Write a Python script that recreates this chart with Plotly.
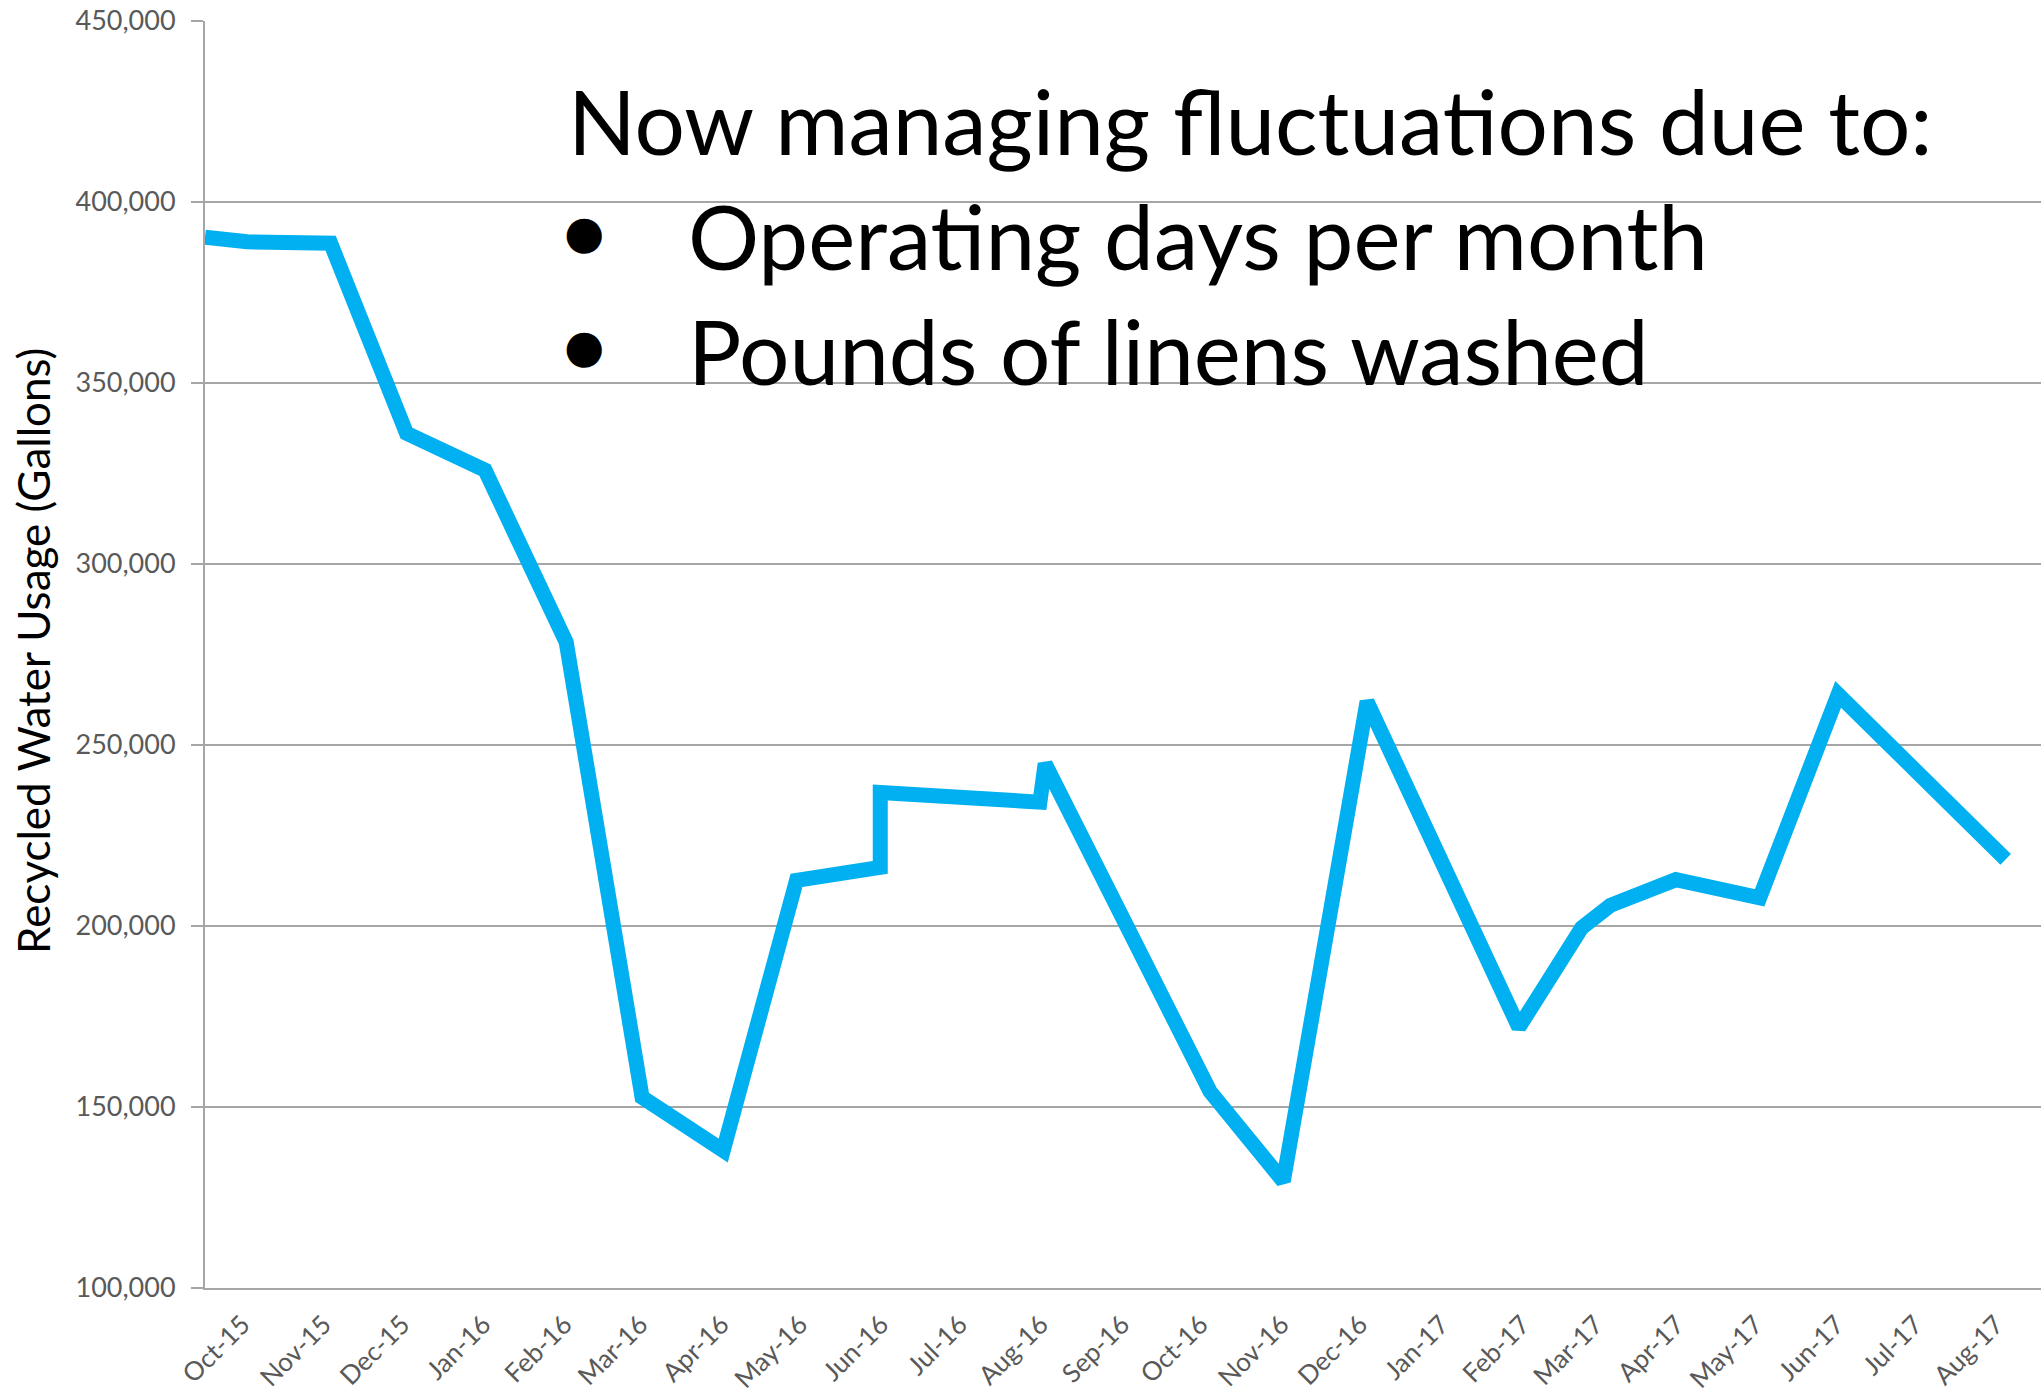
import plotly.graph_objects as go

# ---- data ----
dates = [
    "2015-09-14", "2015-09-30", "2015-11-01", "2015-11-30", "2015-12-30",
    "2016-01-30", "2016-02-28", "2016-03-30", "2016-04-27", "2016-05-29",
    "2016-05-29", "2016-07-29", "2016-07-31", "2016-10-02", "2016-10-30",
    "2016-12-01", "2017-01-28", "2017-02-21", "2017-03-04", "2017-03-29",
    "2017-04-30", "2017-05-30", "2017-08-02",
]
gallons = [
    390250, 389000, 388600, 336100, 325900,
    278450, 152700, 138000, 212600, 216200,
    236900, 234200, 244800, 154300, 129500,
    262000, 172000, 199500, 205700, 212800,
    207800, 264000, 218400,
]
tick_dates = [
    "2015-10-01", "2015-11-01", "2015-12-01", "2016-01-01", "2016-02-01",
    "2016-03-01", "2016-04-01", "2016-05-01", "2016-06-01", "2016-07-01",
    "2016-08-01", "2016-09-01", "2016-10-01", "2016-11-01", "2016-12-01",
    "2017-01-01", "2017-02-01", "2017-03-01", "2017-04-01", "2017-05-01",
    "2017-06-01", "2017-07-01", "2017-08-01",
]
tick_labels = [
    "Oct-15", "Nov-15", "Dec-15", "Jan-16", "Feb-16", "Mar-16", "Apr-16",
    "May-16", "Jun-16", "Jul-16", "Aug-16", "Sep-16", "Oct-16", "Nov-16",
    "Dec-16", "Jan-17", "Feb-17", "Mar-17", "Apr-17", "May-17", "Jun-17",
    "Jul-17", "Aug-17",
]
y_ticks = [100000, 150000, 200000, 250000, 300000, 350000, 400000, 450000]
y_title = "Recycled Water Usage (Gallons)"
heading = "Now managing fluctuations due to:"
bullets = ["Operating days per month", "Pounds of linens washed"]

W, H = 2041, 1395
L, R, T, B = 205, 0, 21, 107
PW, PH = W - L - R, H - T - B


def px(xp):
    return (xp - L) / PW


def py(yp):
    return (H - B - yp) / PH


fig = go.Figure()
fig.add_trace(go.Scatter(
    x=dates, y=gallons, mode="lines",
    line=dict(color="#00B0F0", width=15),
    hoverinfo="skip", showlegend=False,
))

grid = "#A6A6A6"
tick_font = dict(family="Lato, sans-serif", size=27, color="#595959")

fig.update_layout(
    width=W, height=H,
    margin=dict(l=L, r=R, t=T, b=B, pad=0),
    paper_bgcolor="white", plot_bgcolor="white",
    xaxis=dict(
        type="date",
        range=["2015-09-14", "2017-08-15 12:00"],
        tickmode="array", tickvals=tick_dates, ticktext=tick_labels,
        tickangle=-45,
        tickfont=dict(family="Lato, sans-serif", size=26, color="#595959"),
        ticklabelstandoff=9, ticklabelshift=-7,
        showgrid=False, showline=True, linecolor=grid, linewidth=2,
        ticks="", zeroline=False,
    ),
    yaxis=dict(
        range=[100000, 450000],
        tickmode="array", tickvals=y_ticks, tickformat=",",
        tickfont=tick_font, ticklabelstandoff=10,
        showgrid=True, gridcolor=grid, gridwidth=2,
        showline=True, linecolor=grid, linewidth=2,
        ticks="outside", ticklen=12, tickcolor=grid, tickwidth=2,
        zeroline=False,
    ),
)

fig.add_annotation(text=y_title, xref="paper", yref="paper",
                   x=px(33), y=py(651), xanchor="center", yanchor="middle",
                   textangle=-90, showarrow=False,
                   font=dict(family="Lato, sans-serif", size=44, color="black"))

big = dict(family="Lato, sans-serif", size=89, color="black")
fig.add_annotation(text=heading, xref="paper", yref="paper",
                   x=px(566), y=py(120), xanchor="left", yanchor="middle",
                   showarrow=False, font=big)
for i, b in enumerate(bullets):
    yc = 235 + i * 114
    fig.add_annotation(text="●", xref="paper", yref="paper",
                       x=px(584), y=py(yc - 3), xanchor="center", yanchor="middle",
                       showarrow=False,
                       font=dict(family="DejaVu Sans", size=46, color="black"))
    fig.add_annotation(text=b, xref="paper", yref="paper",
                       x=px(686), y=py(yc + 1), xanchor="left", yanchor="middle",
                       showarrow=False, font=big)

fig.write_html(
    "out.html",
    config={"displayModeBar": False},
    post_script="document.body.style.margin='0';document.body.style.overflow='hidden';",
)
